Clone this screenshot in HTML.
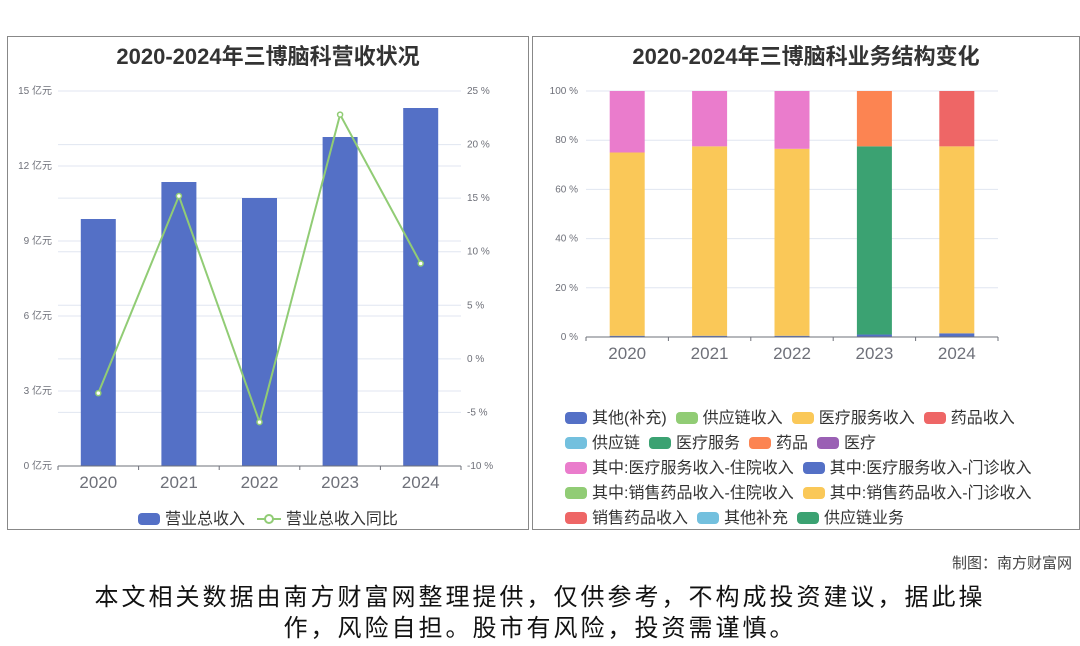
<!DOCTYPE html>
<html><head><meta charset="utf-8">
<style>
body{margin:0;width:1080px;height:646px;background:#fff;font-family:"Liberation Sans","Noto Sans CJK SC",sans-serif;position:relative;overflow:hidden}
.panel{position:absolute;top:36px;height:494px;border:1px solid #888;box-sizing:border-box;background:#fff}
.title{position:absolute;top:2px;left:0;right:0;text-align:center;font-weight:bold;font-size:22px;color:#333}
.leg{position:absolute;font-size:16px;color:#333}
.sw{display:inline-block;width:22px;height:12px;border-radius:4px;vertical-align:-1px;margin-right:5px}
.row{height:25px;white-space:nowrap}
.row span.item{margin-right:9px}
</style></head><body>
<div class="panel" style="left:7px;width:522px">
<div class="title">2020-2024年三博脑科营收状况</div>
</div>
<div class="panel" style="left:532px;width:548px">
<div class="title">2020-2024年三博脑科业务结构变化</div>
</div>
<svg id="s" width="1080" height="646" style="position:absolute;left:0;top:0"></svg>
<div class="leg" style="left:138px;top:505px">
<span><span class="sw" style="background:#5470c6"></span>营业总收入</span>
<span style="margin-left:8px"><svg width="24" height="12" style="vertical-align:-1px"><line x1="0" y1="6" x2="24" y2="6" stroke="#91cc75" stroke-width="2"/><circle cx="12" cy="6" r="4" fill="#fff" stroke="#91cc75" stroke-width="2"/></svg> 营业总收入同比</span>
</div>
<div class="leg" style="left:565px;top:404px" id="leg2"></div>
<div style="position:absolute;right:8px;top:552px;font-size:15px;color:#444">制图：南方财富网</div>
<div style="position:absolute;left:0;right:0;top:582px;text-align:center;font-size:24px;letter-spacing:3px;color:#111;line-height:31px">本文相关数据由南方财富网整理提供，仅供参考，不构成投资建议，据此操<br>作，风险自担。股市有风险，投资需谨慎。</div>
<script>
const years=["2020","2021","2022","2023","2024"];
const revenue=[9.88,11.36,10.72,13.16,14.32];
const yoy=[-3.2,15.2,-5.9,22.8,8.9];
const leftTicks=[0,3,6,9,12,15];
const rightTicks=[-10,-5,0,5,10,15,20,25];
const segNames=["其他(补充)","供应链收入","医疗服务收入","药品收入","供应链","医疗服务","药品","医疗","其中:医疗服务收入-住院收入","其中:医疗服务收入-门诊收入","其中:销售药品收入-住院收入","其中:销售药品收入-门诊收入","销售药品收入","其他补充","供应链业务"];
const segColors=["#5470c6","#91cc75","#fac858","#ee6666","#73c0de","#3ba272","#fc8452","#9a60b4","#ea7ccc","#5470c6","#91cc75","#fac858","#ee6666","#73c0de","#3ba272"];
const stackBlue=[0.5,0.5,0.5,1,1.5];
const stackMain=[74.5,77,76,76.5,76];
const stackMainColor=["#fac858","#fac858","#fac858","#3ba272","#fac858"];
const stackTop=[25,22.5,23.5,22.5,22.5];
const stackTopColor=["#ea7ccc","#ea7ccc","#ea7ccc","#fc8452","#ee6666"];
const pctTicks=[0,20,40,60,80,100];
const s=document.getElementById('s');
function el(t,a,txt){const e=document.createElementNS('http://www.w3.org/2000/svg',t);for(const k in a)e.setAttribute(k,a[k]);if(txt!==undefined)e.textContent=txt;s.appendChild(e);return e;}
const L={x0:58,x1:461,yb:466,yt:91};
const yL=v=>L.yb-(v/15)*(L.yb-L.yt);
const yR=v=>L.yb-((v+10)/35)*(L.yb-L.yt);
const bw=(L.x1-L.x0)/years.length;
const xc=i=>L.x0+bw*(i+0.5);
leftTicks.forEach(v=>{const g=el('line',{x1:L.x0,x2:L.x1,y1:yL(v),y2:yL(v),stroke:'#e0e6f1'});
const t=el('text',{x:52,y:yL(v)+3,'text-anchor':'end','font-size':10,fill:'#6e7079'},v+' 亿元');});
rightTicks.forEach(v=>{const g=el('line',{x1:L.x0,x2:L.x1,y1:yR(v),y2:yR(v),stroke:'#e0e6f1'});
const t=el('text',{x:467,y:yR(v)+3,'font-size':10,fill:'#6e7079'},v+' %');});
revenue.forEach((v,i)=>{const r=el('rect',{x:xc(i)-17.5,y:yL(v),width:35,height:L.yb-yL(v),fill:'#5470c6'});});
el('line',{x1:L.x0,x2:L.x1,y1:L.yb,y2:L.yb,stroke:'#6e7079'});
years.forEach((y,i)=>{el('line',{x1:L.x0+bw*i,x2:L.x0+bw*i,y1:L.yb,y2:L.yb+4,stroke:'#6e7079'});
const t=el('text',{x:xc(i),y:L.yb+22,'text-anchor':'middle','font-size':17,fill:'#6e7079'},y);});
el('line',{x1:L.x1,x2:L.x1,y1:L.yb,y2:L.yb+4,stroke:'#6e7079'});
const ln=el('polyline',{points:yoy.map((v,i)=>xc(i)+','+yR(v)).join(' '),fill:'none',stroke:'#91cc75','stroke-width':2});

yoy.forEach((v,i)=>{const c=el('circle',{cx:xc(i),cy:yR(v),r:2.5,fill:'#fff',stroke:'#91cc75','stroke-width':1.5});});
const R={x0:586,x1:998,yb:337,yt:91};
const yP=v=>R.yb-(v/100)*(R.yb-R.yt);
const rbw=(R.x1-R.x0)/years.length;
const rc=i=>R.x0+rbw*(i+0.5);
pctTicks.forEach(v=>{const g=el('line',{x1:R.x0,x2:R.x1,y1:yP(v),y2:yP(v),stroke:'#e0e6f1'});
const t=el('text',{x:578,y:yP(v)+3,'text-anchor':'end','font-size':10,fill:'#6e7079'},v+' %');});
years.forEach((y,i)=>{let base=0;
[[stackBlue[i],'#5470c6'],[stackMain[i],stackMainColor[i]],[stackTop[i],stackTopColor[i]]].forEach(([v,c],k)=>{
const r=el('rect',{x:rc(i)-17.5,y:yP(base+v),width:35,height:yP(base)-yP(base+v),fill:c});
base+=v;});});
el('line',{x1:R.x0,x2:R.x1,y1:R.yb,y2:R.yb,stroke:'#6e7079'});
years.forEach((y,i)=>{el('line',{x1:R.x0+rbw*i,x2:R.x0+rbw*i,y1:R.yb,y2:R.yb+4,stroke:'#6e7079'});
const t=el('text',{x:rc(i),y:R.yb+22,'text-anchor':'middle','font-size':17,fill:'#6e7079'},y);});
el('line',{x1:R.x1,x2:R.x1,y1:R.yb,y2:R.yb+4,stroke:'#6e7079'});
const rows=[[0,1,2,3],[4,5,6,7],[8,9],[10,11],[12,13,14]];
const lg=document.getElementById('leg2');
rows.forEach(r=>{const d=document.createElement('div');d.className='row';
r.forEach(k=>{const it=document.createElement('span');it.className='item';


it.innerHTML='<span class="sw" style="background:'+segColors[k]+'"></span>'+segNames[k];d.appendChild(it);});lg.appendChild(d);});
</script>
</body></html>
